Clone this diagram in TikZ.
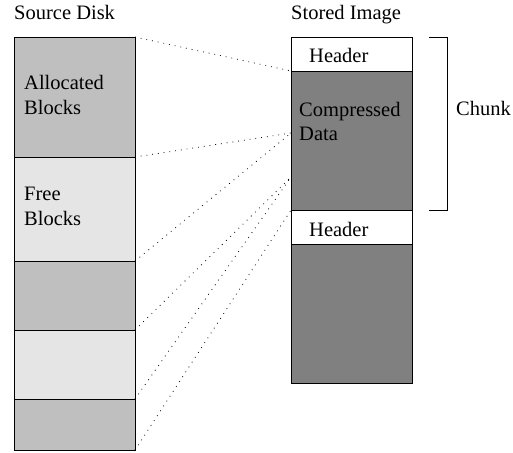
\documentclass[tikz,border=0pt]{standalone}
\usepackage{fontspec}
\setmainfont{Liberation Serif}
\usetikzlibrary{calc}
\begin{document}
\begin{tikzpicture}[x=1pt, y=-1pt,
    blk/.style={draw, line width=0.8pt, anchor=north west, inner sep=0pt, outer sep=0pt, minimum width=121pt},
    used/.style={blk, fill=black!25},
    unused/.style={blk, fill=black!10},
    hdr/.style={blk, fill=white},
    cdata/.style={blk, fill=black!50},
    lbl/.style={anchor=base west, inner sep=0pt, align=left, font=\fontsize{20.5}{24.5}\selectfont},
    map/.style={line width=0.8pt, dash pattern=on 0.8pt off 5pt}]
  \useasboundingbox (0,0) rectangle (513,452);

  % Source disk
  \node[used,   minimum height=120pt] (alloc1) at (14,37) {};
  \node[unused, minimum height=104pt] (free1)  at (alloc1.south west) {};
  \node[used,   minimum height=69pt]  (alloc2) at (free1.south west) {};
  \node[unused, minimum height=69pt]  (free2)  at (alloc2.south west) {};
  \node[used,   minimum height=51pt]  (alloc3) at (free2.south west) {};

  % Stored image
  \node[hdr,   minimum height=34pt]  (hdr1)  at (291,37) {};
  \node[cdata, minimum height=139pt] (data1) at (hdr1.south west) {};
  \node[hdr,   minimum height=34pt]  (hdr2)  at (data1.south west) {};
  \node[cdata, minimum height=139pt] (data2) at (hdr2.south west) {};

  \coordinate (m1) at ($(data1.north west)!0.446!(data1.south west)$);
  \coordinate (m2) at ($(data1.north west)!0.763!(data1.south west)$);

  % Labels (base = last line)
  \node[lbl] (src)    at (14,20)    {Source Disk};
  \node[lbl] (img)    at (291,20)   {Stored Image};
  \node[lbl] (talloc) at (24,114)   {Allocated\\Blocks};
  \node[lbl] (tfree)  at (24,225)   {Free\\Blocks};
  \node[lbl] (thdr1)  at (309,63)   {Header};
  \node[lbl] (thdr2)  at (309,236)  {Header};
  \node[lbl] (tdata)  at (299,140.5) {Compressed\\Data};
  \node[lbl] (tchunk) at (456,115.7) {Chunk};

  % Mapping
  \draw[map] (alloc1.north east) -- (hdr1.south west);
  \draw[map] (alloc1.south east) -- (m1);
  \draw[map] (free1.south east)  -- (m1);
  \draw[map] (alloc2.south east) -- (m2);
  \draw[map] (free2.south east)  -- (m2);
  \draw[map] (alloc3.south east) -- (data1.south west);

  % Chunk bracket
  \draw[line width=0.8pt] ([xshift=17pt]hdr1.north east) -- ++(18,0) |- ([xshift=17pt]data1.south east);
\end{tikzpicture}
\end{document}
